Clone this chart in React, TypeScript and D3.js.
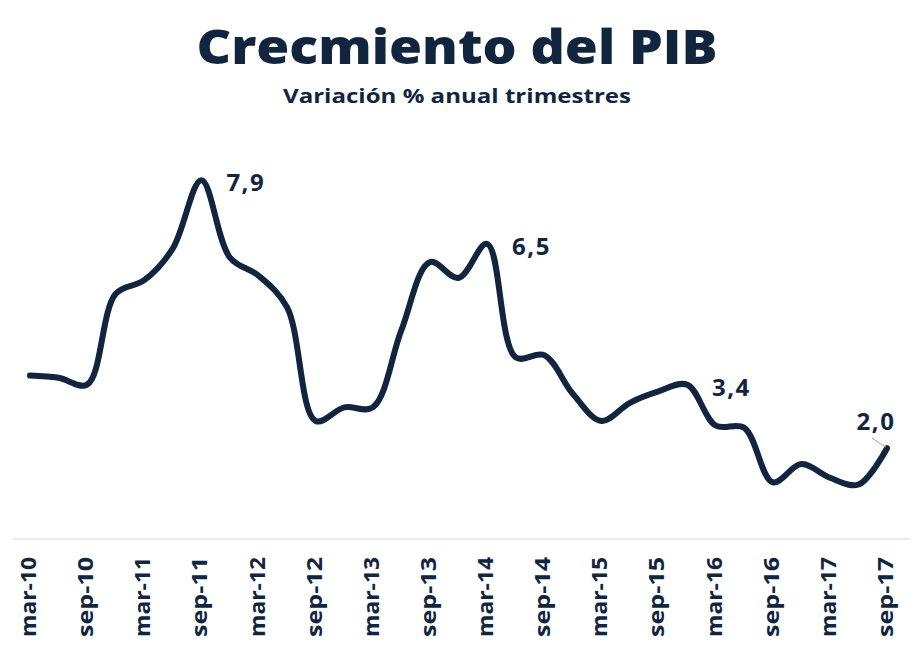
import React, { useEffect, useRef } from 'react';
import * as d3 from 'd3';

// quarterly GDP growth, % y/y
const quarters = [
  'mar-10', 'jun-10', 'sep-10', 'dic-10',
  'mar-11', 'jun-11', 'sep-11', 'dic-11',
  'mar-12', 'jun-12', 'sep-12', 'dic-12',
  'mar-13', 'jun-13', 'sep-13', 'dic-13',
  'mar-14', 'jun-14', 'sep-14', 'dic-14',
  'mar-15', 'jun-15', 'sep-15', 'dic-15',
  'mar-16', 'jun-16', 'sep-16', 'dic-16',
  'mar-17', 'jun-17', 'sep-17',
];
const growth = [
  3.6, 3.55, 3.4, 5.4,
  5.7, 6.4, 7.9, 6.2,
  5.8, 5.1, 2.6, 2.9,
  2.9, 4.6, 6.1, 5.75,
  6.5, 4.0, 4.05, 3.2,
  2.6, 3.0, 3.25, 3.4,
  2.5, 2.45, 1.25, 1.65,
  1.35, 1.2, 2.0,
];
const tickLabels = quarters.filter((q) => q.startsWith('mar') || q.startsWith('sep'));
// annotated points: index and where the label goes
const callouts = [
  { idx: 6, pos: 'right' },
  { idx: 16, pos: 'right' },
  { idx: 23, pos: 'right' },
  { idx: 30, pos: 'above' },
];

const NAVY = '#12253f';
const FONT = '"Open Sans", "Noto Sans", sans-serif';

export default function App() {
  const svgRef = useRef<SVGSVGElement>(null);

  useEffect(() => {
    if (!svgRef.current) return;
    const svg = d3.select(svgRef.current);
    svg.selectAll('*').remove();

    const x = d3.scalePoint<string>().domain(quarters).range([30, 887]);
    const y = d3.scaleLinear().domain([0, 8]).range([539, 539 - 8 * 45.4]);

    // titles
    svg.append('text')
      .attr('x', 457).attr('y', 64)
      .attr('text-anchor', 'middle')
      .attr('font-family', FONT).attr('font-weight', 800)
      .attr('font-size', 48).attr('fill', NAVY)
      .attr('textLength', 521).attr('lengthAdjust', 'spacingAndGlyphs')
      .text('Crecmiento del PIB');
    svg.append('text')
      .attr('x', 457).attr('y', 103)
      .attr('text-anchor', 'middle')
      .attr('font-family', FONT).attr('font-weight', 700)
      .attr('font-size', 20).attr('fill', NAVY)
      .attr('textLength', 348).attr('lengthAdjust', 'spacingAndGlyphs')
      .text('Variación % anual trimestres');

    // baseline axis
    svg.append('line')
      .attr('x1', 13).attr('x2', 910)
      .attr('y1', y(0)).attr('y2', y(0))
      .attr('stroke', '#d9d9d9').attr('stroke-width', 1.2);

    // tick labels
    svg.append('g')
      .selectAll('text')
      .data(tickLabels)
      .enter()
      .append('text')
      .attr('transform', (d) => `translate(${(x(d) || 0) + 6},557) rotate(-90)`)
      .attr('text-anchor', 'end')
      .attr('font-family', FONT).attr('font-weight', 700)
      .attr('font-size', 22).attr('fill', NAVY)
      .attr('textLength', 80).attr('lengthAdjust', 'spacingAndGlyphs')
      .text((d) => d);

    // series line
    const line = d3.line<number>()
      .x((_d, i) => x(quarters[i]) || 0)
      .y((d) => y(d))
      .curve(d3.curveCatmullRom.alpha(0.5));

    svg.append('path')
      .datum(growth)
      .attr('d', line)
      .attr('fill', 'none')
      .attr('stroke', NAVY)
      .attr('stroke-width', 6)
      .attr('stroke-linecap', 'round')
      .attr('stroke-linejoin', 'round');

    // data labels
    callouts.forEach((c) => {
      const px = x(quarters[c.idx]) || 0;
      const py = y(growth[c.idx]);
      const txt = growth[c.idx].toFixed(1).replace('.', ',');
      if (c.pos === 'above') {
        svg.append('line')
          .attr('x1', px - 15).attr('y1', py - 10)
          .attr('x2', px - 1).attr('y2', py - 1)
          .attr('stroke', '#a6a6a6').attr('stroke-width', 1);
        svg.append('text')
          .attr('x', px - 11).attr('y', py - 18)
          .attr('text-anchor', 'middle')
          .attr('font-family', FONT).attr('font-weight', 700)
          .attr('font-size', 24).attr('fill', NAVY)
          .attr('letter-spacing', 1.5)
          .text(txt);
      } else {
        svg.append('text')
          .attr('x', px + 25).attr('y', py + 11)
          .attr('font-family', FONT).attr('font-weight', 700)
          .attr('font-size', 24).attr('fill', NAVY)
          .attr('letter-spacing', 1.5)
          .text(txt);
      }
    });
  }, []);

  return (
    <svg ref={svgRef} width={914} height={650} style={{ display: 'block', position: 'absolute', left: 0, top: 0 }} />
  );
}
